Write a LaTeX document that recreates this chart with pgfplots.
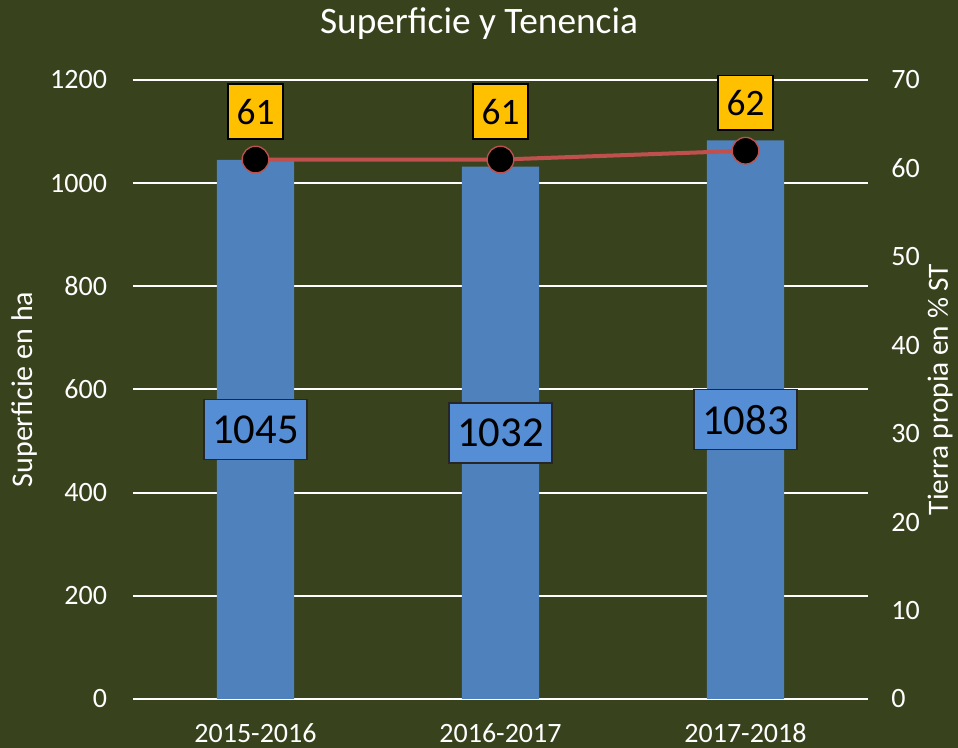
\documentclass[border=0pt]{standalone}
\usepackage{pgfplots}
\pgfplotsset{compat=1.18}
\usepackage{fontspec}
\setmainfont{Carlito}
\definecolor{bg}{HTML}{38431E}
\definecolor{barblue}{HTML}{4F81BD}
\definecolor{boxblue}{HTML}{558ED5}
\definecolor{linered}{HTML}{C0504D}
\definecolor{ylw}{HTML}{FFC000}
\begin{document}
\begin{tikzpicture}
\path[use as bounding box, fill=bg] (0,0) rectangle (718.5pt,561pt);
\node[text=white, font=\fontsize{28}{32}\selectfont] at (359.25pt,543pt) {Superficie y Tenencia};
\begin{axis}[
  at={(99.75pt,36.75pt)}, anchor=south west,
  width=551.25pt, height=464.25pt, scale only axis,
  xmin=-0.5, xmax=2.5, ymin=0, ymax=1200,
  ytick={0,200,...,1200},
  xtick={0,1,2}, xticklabels={2015-2016,2016-2017,2017-2018},
  axis line style={draw=none}, major tick length=0pt,
  ymajorgrids, grid style={white, line width=1.5pt},
  /pgf/number format/assume math mode=true,
  /pgf/number format/1000 sep={},
  tick label style={text=white, font=\fontsize{21}{25}\selectfont},
  yticklabel style={xshift=-16pt},
  xticklabel style={yshift=-15pt},
  ylabel={Superficie en ha},
  ylabel style={at={(axis description cs:-0.147,0.5)}, anchor=center, rotate=0, text=white, font=\fontsize{22.5}{26}\selectfont},
  clip=false,
]
\addplot[ybar, bar width=58pt, fill=barblue, draw=none] coordinates {(0,1045) (1,1032) (2,1083)};
\addplot[draw=none, mark=none, nodes near coords, point meta=explicit symbolic,
  every node near coord/.append style={anchor=center, fill=boxblue, draw=black!85, line width=1.2pt, minimum width=77pt, minimum height=45pt, inner sep=0pt, text=black, font=\fontsize{32}{36}\selectfont}]
  table[meta=v] {
x y v
0 522.5 1045
1 516 1032
2 541.5 1083
};
\end{axis}
\begin{axis}[
  at={(99.75pt,36.75pt)}, anchor=south west,
  width=551.25pt, height=464.25pt, scale only axis,
  xmin=-0.5, xmax=2.5, ymin=0, ymax=70,
  axis x line=none, axis y line*=right,
  ytick={0,10,...,70},
  axis line style={draw=none}, major tick length=0pt,
  /pgf/number format/assume math mode=true,
  tick label style={text=white, font=\fontsize{21}{25}\selectfont},
  yticklabel style={xshift=14pt},
  ylabel={Tierra propia en \% ST},
  ylabel style={at={(axis description cs:1.098,0.5)}, anchor=center, rotate=0, text=white, font=\fontsize{22}{26}\selectfont},
  clip=false,
]
\addplot[linered, line width=3pt, mark=*, mark size=10pt,
  mark options={fill=black, draw=linered, line width=1pt},
  nodes near coords, point meta=explicit symbolic,
  every node near coord/.append style={anchor=center, yshift=36pt, fill=ylw, draw=black, line width=1.2pt, minimum width=41pt, minimum height=41pt, inner sep=0pt, text=black, font=\fontsize{28}{32}\selectfont}]
  table[meta=v] {
x y v
0 61 61
1 61 61
2 62 62
};
\end{axis}
\end{tikzpicture}
\end{document}
